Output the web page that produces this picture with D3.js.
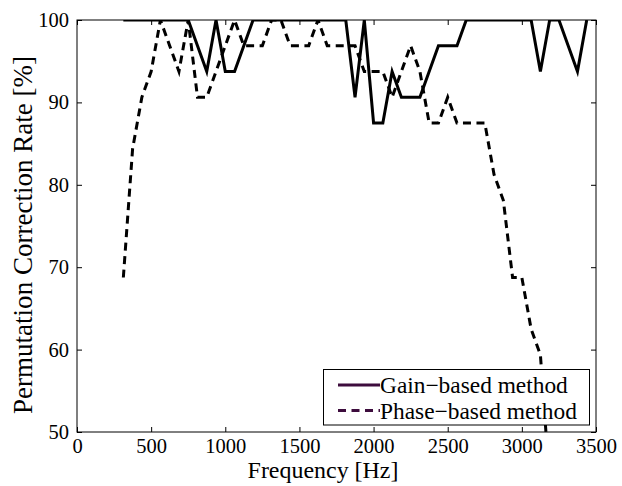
<!DOCTYPE html>
<html>
<head>
<meta charset="utf-8">
<title>Permutation correction rate</title>
<script src="https://cdn.jsdelivr.net/npm/d3@7"></script>
<style>
  body { margin: 0; background: #fff; }
  text { font-family: "Liberation Serif", "Times New Roman", serif; fill: #000; }
</style>
</head>
<body>
<div id="chart"></div>
<script>
// frequencies [Hz] and correction rates [%]
let freqs = [312.5, 375, 437.5, 500, 562.5, 625, 687.5, 750, 812.5, 875, 937.5, 1000, 1062.5, 1125, 1187.5,
  1250, 1312.5, 1375, 1437.5, 1500, 1562.5, 1625, 1687.5, 1750, 1812.5, 1875, 1937.5, 2000, 2062.5, 2125,
  2187.5, 2250, 2312.5, 2375, 2437.5, 2500, 2562.5, 2625, 2687.5, 2750, 2812.5, 2875, 2937.5, 3000, 3062.5,
  3125, 3187.5, 3250, 3312.5, 3375, 3437.5];

let gain = [100, 100, 100, 100, 100, 100, 100, 100, 96.875, 93.75, 100, 93.75, 93.75, 96.875, 100,
  100, 100, 100, 100, 100, 100, 100, 100, 100, 100, 90.625, 100, 87.5, 87.5, 93.75,
  90.625, 90.625, 90.625, 93.75, 96.875, 96.875, 96.875, 100, 100, 100, 100, 100, 100, 100, 100,
  93.75, 100, 100, 96.875, 93.75, 100];

// phase-based curve drops below the 50 % floor after ~3.2 kHz
let phase = [68.75, 84.375, 90.625, 93.75, 100, 96.875, 93.75, 100, 90.625, 90.625, 93.75, 96.875, 100, 96.875, 96.875,
  96.875, 100, 100, 96.875, 96.875, 96.875, 100, 96.875, 96.875, 96.875, 96.875, 93.75, 93.75, 93.75, 90.625,
  93.75, 96.875, 93.75, 87.5, 87.5, 90.625, 87.5, 87.5, 87.5, 87.5, 81.25, 78.125, 68.75, 68.75, 62.5,
  59.375, 43.75];

let xTicks = [0, 500, 1000, 1500, 2000, 2500, 3000, 3500];
let yTicks = [50, 60, 70, 80, 90, 100];
let seriesNames = ["Gain\u2212based method", "Phase\u2212based method"];

let W = 622, H = 486;
let mLeft = 77, mRight = 596, mTop = 20, mBottom = 432;

let svg = d3.select("#chart").append("svg").attr("width", W).attr("height", H);

// scale a text so its drawn length matches the one in the picture
function fitText(sel, base, targetLen) {
  sel.style("font-size", base + "px");
  let len = sel.node().getComputedTextLength();
  let size = base * targetLen / len;
  sel.style("font-size", size + "px");
  return size;
}

let x = d3.scaleLinear().domain([0, 3500]).range([mLeft, mRight]);
let y = d3.scaleLinear().domain([50, 100]).range([mBottom, mTop]);

svg.append("clipPath").attr("id", "plotclip")
  .append("rect").attr("x", mLeft).attr("y", mTop).attr("width", mRight - mLeft).attr("height", mBottom - mTop);

// axes, ticks pointing inward like matlab
let gx = svg.append("g").attr("transform", "translate(0," + mBottom + ")")
  .call(d3.axisBottom(x).tickValues(xTicks).tickSize(-5).tickPadding(6).tickFormat(d3.format("d")));
let gxt = svg.append("g").attr("transform", "translate(0," + mTop + ")")
  .call(d3.axisTop(x).tickValues(xTicks).tickSize(-5).tickFormat(""));
let gy = svg.append("g").attr("transform", "translate(" + mLeft + ",0)")
  .call(d3.axisLeft(y).tickValues(yTicks).tickSize(-5).tickPadding(8).tickFormat(d3.format("d")));
let gyr = svg.append("g").attr("transform", "translate(" + mRight + ",0)")
  .call(d3.axisRight(y).tickValues(yTicks).tickSize(-5).tickFormat(""));

// tick label size from the width of "2000" (about 41 px)
let fs = fitText(gx.selectAll("text").filter(function(d) { return d == 2000; }), 20, 41);

[gx, gxt, gy, gyr].forEach(function(g) {
  g.select(".domain").remove();
  g.selectAll(".tick line").attr("stroke", "#000").attr("stroke-width", 1);
  g.selectAll("text").style("font-size", fs + "px").attr("fill", "#000");
});

// lines
let line = d3.line().x(function(d) { return x(d[0]); }).y(function(d) { return y(d[1]); });
let plot = svg.append("g").attr("clip-path", "url(#plotclip)");

plot.append("path")
  .datum(freqs.map(function(f, i) { return [f, gain[i]]; }))
  .attr("d", line).attr("fill", "none").attr("stroke", "#000")
  .attr("stroke-width", 3).attr("stroke-linejoin", "miter");

plot.append("path")
  .datum(phase.map(function(v, i) { return [freqs[i], v]; }))
  .attr("d", line).attr("fill", "none").attr("stroke", "#000")
  .attr("stroke-width", 3).attr("stroke-dasharray", "8,5.5");

// box
svg.append("rect").attr("x", mLeft).attr("y", mTop).attr("width", mRight - mLeft).attr("height", mBottom - mTop)
  .attr("fill", "none").attr("stroke", "#000").attr("stroke-width", 1);

// axis titles
let xt = svg.append("text").attr("x", 323).attr("y", 478).attr("text-anchor", "middle")
  .text("Frequency [Hz]");
fitText(xt, 24, 151);
let yt = svg.append("text").attr("transform", "translate(32,235) rotate(-90)").attr("text-anchor", "middle")
  .text("Permutation Correction Rate [%]");
fitText(yt, 24, 358);

// legend
let lg = svg.append("g");
lg.append("rect").attr("x", 323.5).attr("y", 369.5).attr("width", 266).attr("height", 55.5)
  .attr("fill", "#fff").attr("stroke", "#000").attr("stroke-width", 1);
let lfs = 23;
seriesNames.forEach(function(name, i) {
  let ly = 385 + i * 25.5;
  lg.append("line").attr("x1", 338).attr("x2", 380).attr("y1", ly).attr("y2", ly)
    .attr("stroke", "#3d0c3d").attr("stroke-width", 3)
    .attr("stroke-dasharray", i == 1 ? "8,5.5" : null);
  let t = lg.append("text").attr("x", 380).attr("y", ly + 8).text(name);
  if (i == 0) lfs = fitText(t, 23, 188);
  else t.style("font-size", lfs + "px");
});
</script>
</body>
</html>
